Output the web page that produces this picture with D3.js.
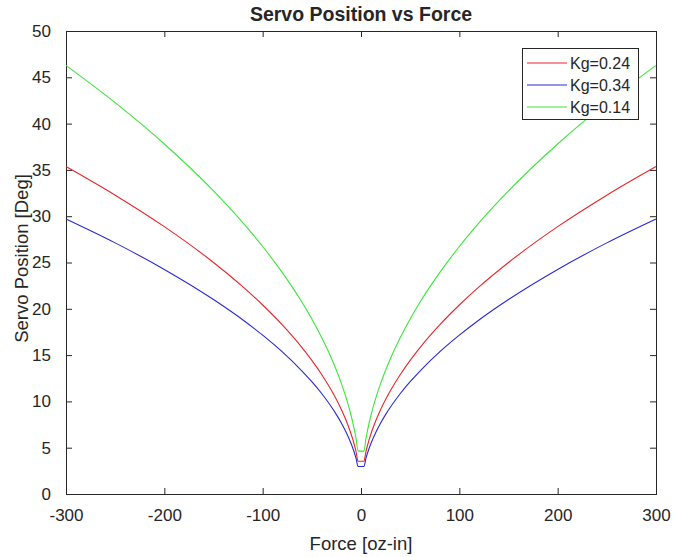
<!DOCTYPE html>
<html>
<head>
<meta charset="utf-8">
<script src="https://cdn.jsdelivr.net/npm/d3@7"></script>
<style>
  body { margin: 0; background: #fff; }
  text { font-family: Arial, "Liberation Sans", sans-serif; fill: #262626; }
</style>
</head>
<body>
<div id="chart"></div>
<script>
// Force values [oz-in] (no sample at 0, curve bottoms out at +-3)
var force = [-300, -250, -200, -150, -120, -100, -80, -60, -50, -40, -30, -25, -20, -15, -10, -7, -5, -3,
             3, 5, 7, 10, 15, 20, 25, 30, 40, 50, 60, 80, 100, 120, 150, 200, 250, 300];

// Servo position [Deg]
var kg024 = [35.36, 32.27, 28.87, 25.0, 22.36, 20.41, 18.26, 15.81, 14.43, 12.91, 11.18, 10.21, 9.13, 7.91, 6.45, 5.40, 4.56, 3.54,
             3.54, 4.56, 5.40, 6.45, 7.91, 9.13, 10.21, 11.18, 12.91, 14.43, 15.81, 18.26, 20.41, 22.36, 25.0, 28.87, 32.27, 35.36];
var kg034 = [29.70, 27.12, 24.25, 21.00, 18.79, 17.15, 15.34, 13.28, 12.13, 10.85, 9.39, 8.57, 7.67, 6.64, 5.42, 4.54, 3.84, 2.97,
             2.97, 3.84, 4.54, 5.42, 6.64, 7.67, 8.57, 9.39, 10.85, 12.13, 13.28, 15.34, 17.15, 18.79, 21.00, 24.25, 27.12, 29.70];
var kg014 = [46.29, 42.26, 37.80, 32.73, 29.28, 26.73, 23.90, 20.70, 18.90, 16.90, 14.64, 13.36, 11.95, 10.35, 8.45, 7.07, 5.98, 4.63,
             4.63, 5.98, 7.07, 8.45, 10.35, 11.95, 13.36, 14.64, 16.90, 18.90, 20.70, 23.90, 26.73, 29.28, 32.73, 37.80, 42.26, 46.29];

var seriesNames = ["Kg=0.24", "Kg=0.34", "Kg=0.14"];
var seriesValues = [kg024, kg034, kg014];
var seriesColors = ["#e8262a", "#2a2ad2", "#3ce63c"];

var xTicks = [-300, -200, -100, 0, 100, 200, 300];
var yTicks = [0, 5, 10, 15, 20, 25, 30, 35, 40, 45, 50];

// Set the dimensions and margins of the graph
var margin = {top: 31, right: 17, bottom: 63, left: 66},
    width = 673 - margin.left - margin.right,
    height = 557 - margin.top - margin.bottom;

var svg = d3.select("#chart")
  .append("svg")
    .attr("width", width + margin.left + margin.right)
    .attr("height", height + margin.top + margin.bottom)
  .append("g")
    .attr("transform", "translate(" + margin.left + "," + margin.top + ")");

var x = d3.scaleLinear().domain([-300, 300]).range([0, width]);
var y = d3.scaleLinear().domain([0, 50]).range([height, 0]);

// plain hyphen for negatives, like MATLAB
var plain = function(d) { return String(d); };

// Axes, ticks pointing inward like MATLAB
function styleAxis(g) {
  g.select(".domain").remove();
  g.selectAll("line").attr("stroke", "#262626");
  g.selectAll("text").style("font-size", "17px").attr("fill", "#262626");
}

svg.append("g")
  .attr("transform", "translate(0," + height + ")")
  .call(d3.axisBottom(x).tickValues(xTicks).tickFormat(plain).tickSizeInner(-6).tickPadding(15))
  .call(styleAxis);

svg.append("g")
  .call(d3.axisTop(x).tickValues(xTicks).tickSizeInner(-6).tickFormat(""))
  .call(styleAxis);

svg.append("g")
  .call(d3.axisLeft(y).tickValues(yTicks).tickFormat(plain).tickSizeInner(-6).tickPadding(15))
  .call(styleAxis);

svg.append("g")
  .attr("transform", "translate(" + width + ",0)")
  .call(d3.axisRight(y).tickValues(yTicks).tickSizeInner(-6).tickFormat(""))
  .call(styleAxis);

// Box around the plot area
svg.append("rect")
  .attr("x", 0.5)
  .attr("y", 0.5)
  .attr("width", width)
  .attr("height", height)
  .attr("fill", "none")
  .attr("stroke", "#262626")
  .attr("stroke-width", 1);

// Lines
var line = d3.line()
  .x(function(d, i) { return x(force[i]); })
  .y(function(d) { return y(d); })
  .curve(d3.curveMonotoneX);

seriesValues.forEach(function(vals, k) {
  svg.append("path")
    .datum(vals)
    .attr("fill", "none")
    .attr("stroke", seriesColors[k])
    .attr("stroke-width", 1.1)
    .attr("d", line);
});

// Title and labels
svg.append("text")
  .attr("x", width / 2)
  .attr("y", -10)
  .attr("text-anchor", "middle")
  .style("font-size", "19.5px")
  .style("font-weight", "bold")
  .attr("fill", "#000")
  .text("Servo Position vs Force");

svg.append("text")
  .attr("x", width / 2)
  .attr("y", height + 56)
  .attr("text-anchor", "middle")
  .style("font-size", "18.5px")
  .text("Force [oz-in]");

svg.append("text")
  .attr("transform", "translate(-38," + (height / 2 - 4) + ") rotate(-90)")
  .attr("text-anchor", "middle")
  .style("font-size", "18.5px")
  .text("Servo Position [Deg]");

// Legend
var legend = svg.append("g")
  .attr("transform", "translate(" + (x(300) - 134) + ",17)");

legend.append("rect")
  .attr("x", 0.5)
  .attr("y", 0.5)
  .attr("width", 116)
  .attr("height", 71)
  .attr("fill", "#fff")
  .attr("stroke", "#262626");

seriesNames.forEach(function(name, k) {
  var cy = 15 + k * 22;
  legend.append("line")
    .attr("x1", 5)
    .attr("x2", 45)
    .attr("y1", cy)
    .attr("y2", cy)
    .attr("stroke", seriesColors[k])
    .attr("stroke-width", 1.1);
  legend.append("text")
    .attr("x", 48)
    .attr("y", cy)
    .attr("dy", "0.35em")
    .style("font-size", "16px")
    .text(name);
});
</script>
</body>
</html>
